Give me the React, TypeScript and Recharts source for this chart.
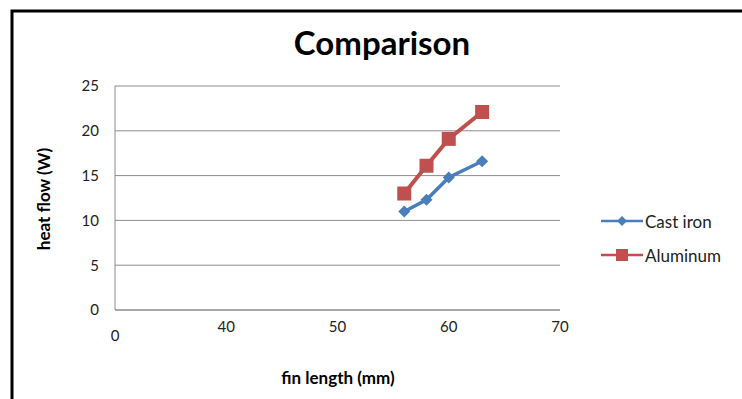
import { LineChart, Line, XAxis, YAxis, CartesianGrid, Customized } from "recharts"

const finLength = [56, 58, 60, 63]
const castIron = [11, 12.3, 14.8, 16.6]
const aluminum = [13, 16.1, 19.1, 22.1]
const xTicks = [30, 40, 50, 60, 70]
const yTicks = [0, 5, 10, 15, 20, 25]

const data = finLength.map((x, i) => ({ x, castIron: castIron[i], aluminum: aluminum[i] }))

const FONT = "Lato, 'Open Sans', sans-serif"

// first x tick is shown as "0", sitting a bit lower than the rest
const XTick = (props: any) => {
  const { x, y, payload } = props
  const first = payload.value === xTicks[0]
  return (
    <text x={x} y={y + (first ? 23 : 14)} textAnchor="middle" fontSize={15} fill="#222" fontFamily={FONT}>
      {first ? "0" : payload.value}
    </text>
  )
}

const Diamond = (props: any) => {
  const { cx, cy } = props
  if (cx == null || cy == null) return null
  return <path d={`M${cx},${cy - 6} L${cx + 6},${cy} L${cx},${cy + 6} L${cx - 6},${cy} Z`} fill="#4a7ebb" />
}

const Square = (props: any) => {
  const { cx, cy } = props
  if (cx == null || cy == null) return null
  return <rect x={cx - 7} y={cy - 7} width={14} height={14} fill="#c0504d" />
}

const legendItems = [
  { label: "Cast iron", color: "#4a7ebb", shape: "diamond" },
  { label: "Aluminum", color: "#c0504d", shape: "square" },
]

const LegendBox = () => (
  <div style={{ position: "absolute", left: 601, top: 204, fontFamily: FONT, fontSize: 17, color: "#222" }}>
    {legendItems.map((it) => (
      <div key={it.label} style={{ display: "flex", alignItems: "center", height: 34 }}>
        <svg width={42} height={14}>
          <line x1={0} y1={7} x2={42} y2={7} stroke={it.color} strokeWidth={2.5} />
          {it.shape === "diamond" ? (
            <path d="M21,2 L26,7 L21,12 L16,7 Z" fill={it.color} />
          ) : (
            <rect x={15} y={1} width={12} height={12} fill={it.color} />
          )}
        </svg>
        <span style={{ marginLeft: 2 }}>{it.label}</span>
      </div>
    ))}
  </div>
)

export default function App() {
  return (
    <div style={{ position: "absolute", left: 0, top: 0, width: 742, height: 399, background: "#fff" }}>
      <LineChart width={742} height={399} data={data} margin={{ top: 86, right: 182, bottom: 59, left: 60 }}>
        <Customized
          component={() => (
            <g>
              <path d="M12,399 L12,11 L742,11" fill="none" stroke="#000" strokeWidth={3} />
              <text x={382} y={55} textAnchor="middle" fontSize={33} fontWeight="bold" fill="#000" fontFamily={FONT}>
                Comparison
              </text>
              <text x={338} y={384} textAnchor="middle" fontSize={17} fontWeight="bold" fill="#000" fontFamily={FONT}>
                fin length (mm)
              </text>
              <text
                x={50}
                y={199}
                textAnchor="middle"
                fontSize={17}
                fontWeight="bold"
                fill="#000"
                fontFamily={FONT}
                transform="rotate(-90 50 199)"
              >
                heat flow (W)
              </text>
            </g>
          )}
        />
        <CartesianGrid vertical={false} stroke="#8c8c8c" strokeWidth={1} />
        <XAxis
          dataKey="x"
          type="number"
          domain={[30, 70]}
          ticks={xTicks}
          tickLine={false}
          axisLine={{ stroke: "#8c8c8c" }}
          tick={<XTick />}
          interval={0}
          height={30}
        />
        <YAxis
          type="number"
          domain={[0, 25]}
          ticks={yTicks}
          width={55}
          tickLine={false}
          axisLine={{ stroke: "#8c8c8c" }}
          tick={{ fontSize: 15, fill: "#222", fontFamily: FONT, dx: -8 }}
          interval={0}
        />
        <Line
          dataKey="castIron"
          name="Cast iron"
          stroke="#4a7ebb"
          strokeWidth={3.5}
          dot={<Diamond />}
          activeDot={false}
          isAnimationActive={false}
        />
        <Line
          dataKey="aluminum"
          name="Aluminum"
          stroke="#c0504d"
          strokeWidth={4}
          dot={<Square />}
          activeDot={false}
          isAnimationActive={false}
        />
      </LineChart>
      <LegendBox />
    </div>
  )
}
